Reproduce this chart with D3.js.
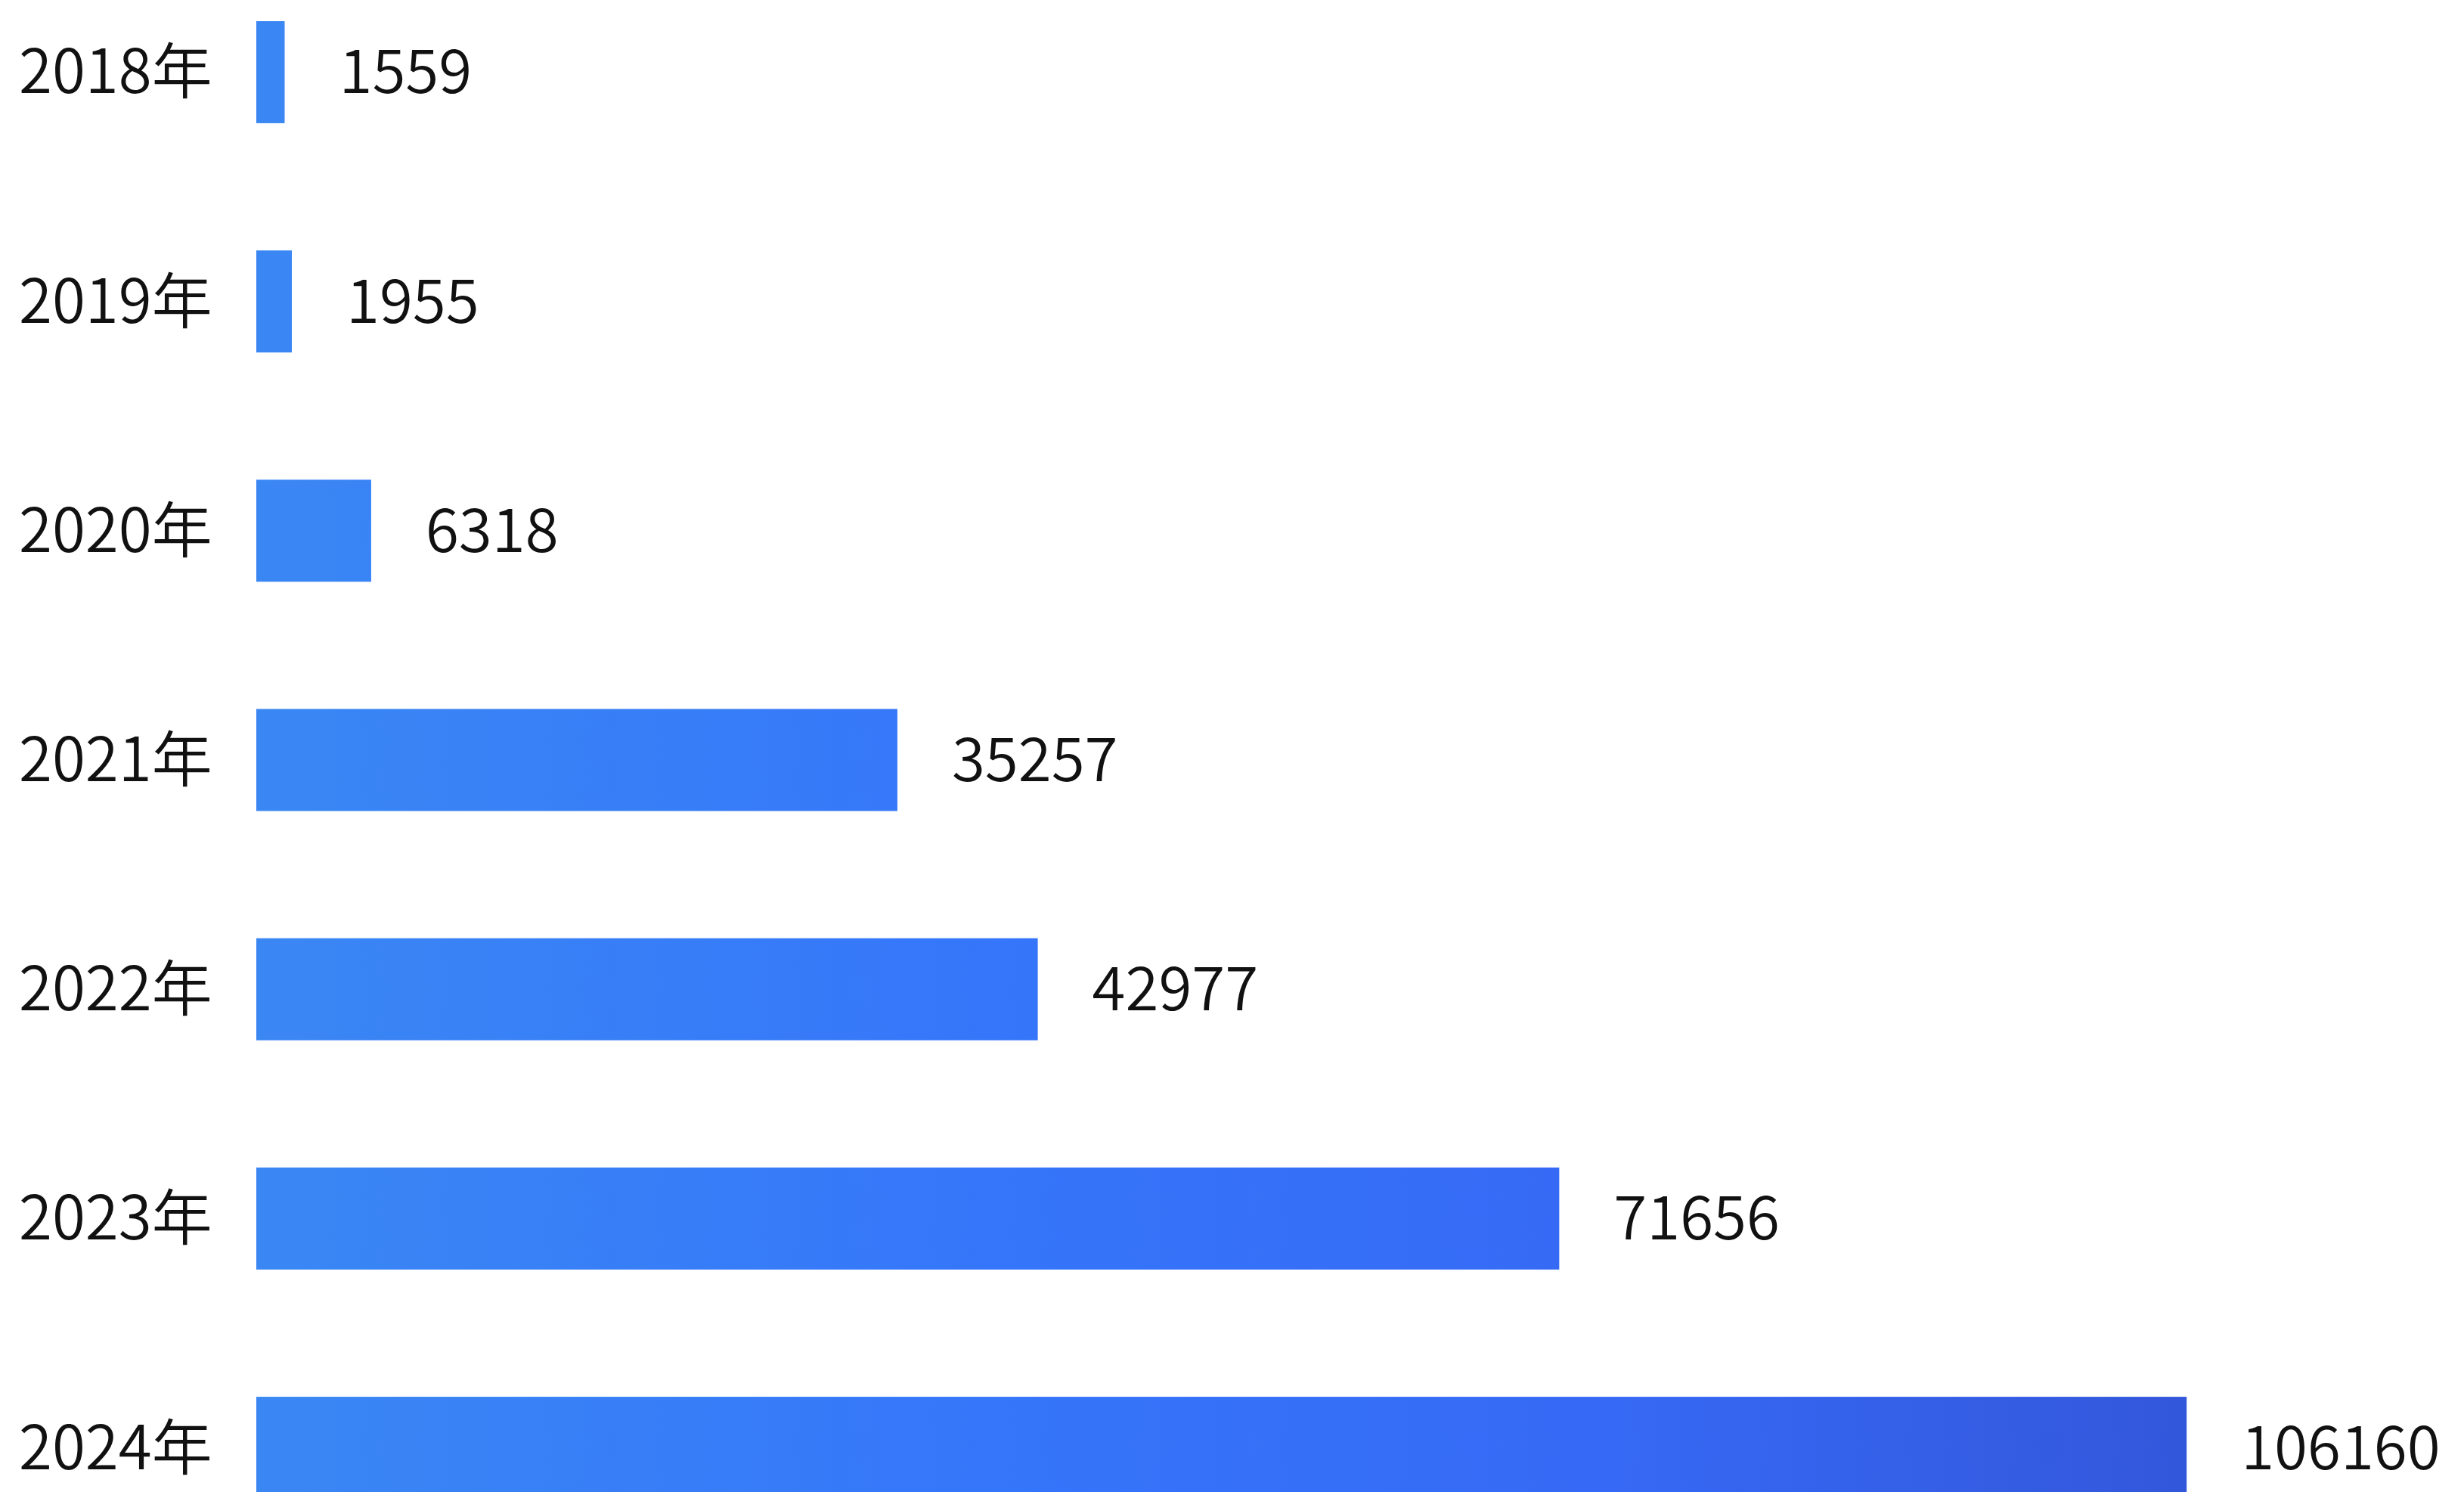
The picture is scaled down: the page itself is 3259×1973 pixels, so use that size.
<!DOCTYPE html>
<html>
<head>
<meta charset="utf-8">
<script src="https://cdn.jsdelivr.net/npm/d3@7"></script>
<style>
  html, body { margin: 0; padding: 0; background: #ffffff; overflow: hidden; }
  svg { display: block; }
  text { font-family: "Noto Sans CJK SC", "Open Sans", sans-serif; font-weight: 350; fill: #111111; }
</style>
</head>
<body>
<svg id="chart"></svg>
<script>
// Yearly totals, one bar per year
const years = ["2018年", "2019年", "2020年", "2021年", "2022年", "2023年", "2024年"];
const values = [1559, 1955, 6318, 35257, 42977, 71656, 106160];

const W = 3259, H = 1973;
const svg = d3.select("#chart").attr("width", W).attr("height", H);

const x = d3.scaleLinear().domain([0, 120000]).range([339, 339 + 2886]);
const y = d3.scaleBand().domain(years).range([28, 1982]).paddingInner(0.555).paddingOuter(0);

// horizontal blue gradient shared by all bars
const defs = svg.append("defs");
const grad = defs.append("linearGradient")
  .attr("id", "barGrad")
  .attr("gradientUnits", "userSpaceOnUse")
  .attr("x1", x(0)).attr("y1", 0)
  .attr("x2", x(106160)).attr("y2", 0);
grad.append("stop").attr("offset", "0%").attr("stop-color", "#3a87f4");
grad.append("stop").attr("offset", "40%").attr("stop-color", "#3575fa");
grad.append("stop").attr("offset", "70%").attr("stop-color", "#3669f5");
grad.append("stop").attr("offset", "100%").attr("stop-color", "#3357db");

const data = years.map((yr, i) => ({ year: yr, value: values[i] }));

svg.append("g").selectAll("rect")
  .data(data)
  .join("rect")
  .attr("x", x(0))
  .attr("y", d => y(d.year))
  .attr("width", d => x(d.value) - x(0))
  .attr("height", y.bandwidth())
  .attr("fill", "url(#barGrad)");

// year labels on the left
svg.append("g").selectAll("text")
  .data(data)
  .join("text")
  .attr("x", 25)
  .attr("y", d => y(d.year) + y.bandwidth() / 2 + 28)
  .attr("font-size", 80)
  .text(d => d.year);

// value labels after each bar
svg.append("g").selectAll("text")
  .data(data)
  .join("text")
  .attr("x", d => x(d.value) + 72)
  .attr("y", d => y(d.year) + y.bandwidth() / 2 + 28)
  .attr("font-size", 80)
  .text(d => d.value);
</script>
</body>
</html>
